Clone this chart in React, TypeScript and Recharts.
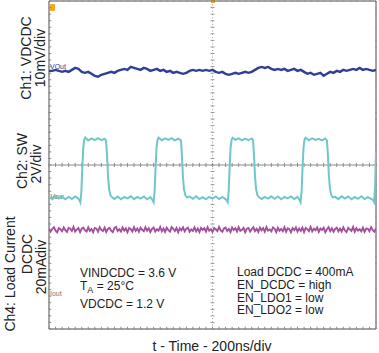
import React from "react";
import {
  ComposedChart,
  Line,
  XAxis,
  YAxis,
  CartesianGrid,
  ReferenceLine,
  ReferenceArea,
  Customized,
} from "recharts";

const FONT = '"Liberation Sans", Arial, Helvetica, sans-serif';

// horizontal: 200 ns/div, 10 divisions; vertical: 10 divisions
const timeTicks = [0, 200, 400, 600, 800, 1000, 1200, 1400, 1600, 1800, 2000];
const divTicks = [-5, -4, -3, -2, -1, 0, 1, 2, 3, 4, 5];

// scope channel settings (scale + screen position of the trace reference)
const ch1MvPerDiv = 10;
const ch1Pos = 2.87;
const ch2VPerDiv = 2;
const ch2Pos = -1.0;
const ch4MaPerDiv = 20;
const ch4Pos = -1.97;

// Ch1: VDCDC ripple in mV around the DC level, one sample every 20 ns
const ch1RippleMv = [
  0, 0, 0.3, 0, -0.3, 0, -0.3, 0.3, 0.9, 0.6,
  -0.3, -0.6, -0.3, -0.9, -1.5, -1.8, -1.2, -0.9, -0.6, -0.3,
  -0.6, 0, 0.3, 0.6, 0.3, 1.2, 0.9, 0.6, 0.3, 0.9,
  0.6, 0, 0.3, 0.6, 0, 0.3, -0.3, 0, -0.6, -0.3,
  -0.6, -0.9, -0.6, 0, 0.3, 0, 0.3, 0, 0.3, 0,
  0.3, -0.3, -0.6, -0.3, -0.9, -1.2, -0.9, -0.6, -0.9, -0.6,
  -0.3, -0.6, -0.3, 0.3, 0.9, 1.2, 0.9, 1.2, 0.6, 0.3,
  0.6, 0.3, 0.6, 0, 0.3, 0.6, 0, 0.3, -0.3, -0.9,
  -0.6, -1.2, -0.9, -0.6, -1.5, -0.9, -0.3, -0.6, 0, -0.3,
  0.3, 0, 0.3, 0.6, 0.3, 0.9, 0.3, 0.6, 0.3, 0,
  0.3,
];

// Ch2: SW node voltage
const ch2TimeNs = [
  0, 20, 40, 60, 80, 100, 120, 140, 160, 180,
  186, 192, 198, 204, 210, 216, 222,
  240, 260, 280, 300, 320, 340,
  349, 355, 361, 368, 376, 386,
  400, 420, 440, 460, 480, 500, 520, 540, 560, 580, 600, 620,
  632, 640, 646, 652, 658, 664, 670,
  690, 710, 730, 750, 770, 790,
  807, 813, 819, 826, 834, 844,
  860, 880, 900, 920, 940, 960, 980, 1000, 1020, 1040, 1060, 1076,
  1086, 1093, 1099, 1105, 1111, 1117, 1123,
  1140, 1160, 1180, 1200, 1220, 1240,
  1248, 1254, 1260, 1267, 1275, 1285,
  1300, 1320, 1340, 1360, 1380, 1400, 1420, 1440, 1460, 1480, 1500, 1520,
  1532, 1539, 1545, 1551, 1557, 1563, 1569,
  1590, 1610, 1630, 1650, 1670, 1690,
  1700, 1706, 1712, 1719, 1727, 1737,
  1750, 1770, 1790, 1810, 1830, 1850, 1870, 1890, 1910, 1930, 1950, 1970,
  1980, 1988, 1994, 2000,
];
const ch2Volts = [
  0.06, -0.08, 0.09, -0.04, 0.08, -0.09, 0.05, -0.07, 0.08, -0.05,
  -0.15, -0.28, 0.4, 1.9, 3.1, 3.55, 3.68,
  3.5, 3.62, 3.52, 3.63, 3.51, 3.6,
  3.5, 2.6, 1.3, 0.5, 0.15, 0.03,
  -0.07, 0.08, -0.09, 0.05, -0.04, 0.09, -0.08, 0.06, -0.05, 0.08, -0.09, 0.04,
  -0.12, -0.27, 0.4, 1.9, 3.1, 3.55, 3.67,
  3.51, 3.62, 3.53, 3.64, 3.5, 3.6,
  3.5, 2.6, 1.3, 0.5, 0.15, 0.03,
  0.08, -0.06, 0.09, -0.08, 0.04, -0.09, 0.06, -0.05, 0.08, -0.08, 0.05, -0.06,
  -0.14, -0.27, 0.4, 1.9, 3.1, 3.55, 3.66,
  3.53, 3.62, 3.5, 3.61, 3.52, 3.62,
  3.5, 2.6, 1.3, 0.5, 0.15, 0.03,
  -0.08, 0.06, -0.05, 0.09, -0.06, 0.08, -0.09, 0.05, -0.04, 0.08, -0.08, 0.06,
  -0.13, -0.27, 0.4, 1.9, 3.1, 3.55, 3.66,
  3.51, 3.63, 3.53, 3.6, 3.5, 3.62,
  3.5, 2.6, 1.3, 0.5, 0.15, 0.03,
  0.06, -0.08, 0.09, -0.05, 0.08, -0.09, 0.05, -0.06, 0.09, -0.08, 0.04, -0.06,
  -0.12, -0.26, 0.6, 2.8,
];

// Ch4: load current noise in mA around its mean, one sample every 10 ns
const ch4NoiseMa = [
  0.8, -1.2, 0.4, 1.5, -0.6, -1.6, 0.9, 0.2, -1.0, 1.3,
  -0.3, -1.4, 1.1, 0.5, -0.8, 1.6, -1.2, 0.1, 0.9, -1.5,
  0.6, 1.2, -0.4, -1.1, 1.4, -0.7, 0.3, -1.6, 1.0, 0.6,
  -1.3, 1.5, -0.2, -0.9, 1.2, -1.4, 0.4, 1.1, -0.6, -1.5,
  0.9, 1.6, -0.9, 0.2, -1.2, 1.3, -0.5, 0.8, -1.6, 1.0,
  0.3, -1.1, 1.5, -0.8, 0.6, -1.3, 1.2, -0.1, -1.0, 1.4,
  -0.6, 0.9, -1.5, 0.5, 1.3, -1.2, 0.2, -0.7, 1.6, -1.0,
  0.7, -1.4, 1.1, -0.3, -1.2, 1.5, 0.4, -0.9, 1.0, -1.6,
  0.8, -0.4, 1.3, -1.1, 0.6, 1.2, -1.3, 0.1, -0.8, 1.4,
  -1.0, 0.7, -1.5, 1.1, -0.2, 0.9, -1.2, 1.5, -0.6, 0.3,
  -1.4, 1.0, 0.2, -0.9, 1.6, -0.5, -1.3, 0.7, 1.2, -0.8,
  0.4, -1.5, 1.3, -0.2, 0.8, -1.1, 1.5, -0.7, -0.1, 1.1,
  -1.6, 0.6, 1.0, -1.2, 0.3, 1.4, -0.9, 0.5, -1.4, 1.2,
  -0.4, 0.9, -1.3, 1.6, -0.6, 0.1, -1.1, 1.3, 0.5, -1.5,
  1.1, -0.7, 0.4, -1.0, 1.5, -1.3, 0.8, 0.2, -1.6, 0.9,
  -0.3, 1.4, -1.2, 0.6, -0.8, 1.2, -1.5, 1.0, 0.3, -0.9,
  1.6, -1.1, 0.5, -0.4, 1.3, -1.4, 0.7, -0.2, 1.1, -1.6,
  0.2, 1.5, -0.9, 0.8, -1.3, 0.4, 1.2, -1.0, 0.6, -1.2,
  1.4, -0.5, -1.5, 1.0, 0.1, -0.8, 1.6, -1.3, 0.9, -0.6,
  0.3, -1.1, 1.2, -1.4, 0.7, 0.5, -1.0, 1.5, -0.3, -1.2,
  0.8,
];

const ch1StepNs = 20;
const ch4StepNs = 10;

const ch1Data = ch1RippleMv.map((v, i) => ({ t: i * ch1StepNs, y: ch1Pos + v / ch1MvPerDiv }));
const ch2Data = ch2TimeNs.map((t, i) => ({ t, y: ch2Pos + ch2Volts[i] / ch2VPerDiv }));
const ch4Data = ch4NoiseMa.map((v, i) => ({ t: i * ch4StepNs, y: ch4Pos + v / ch4MaPerDiv }));

// graticule minor ticks (5 per division)
const minorT = Array.from({ length: 51 }, (_, i) => i * 40);
const minorD = Array.from({ length: 51 }, (_, i) => -5 + i * 0.2);

const leftNotes = ["VINDCDC = 3.6 V", "", "VDCDC = 1.2 V"];
const rightNotes = ["Load DCDC = 400mA", "EN_DCDC = high", "EN_LDO1 = low", "EN_LDO2 = low"];

function Overlay() {
  const txt = { fontFamily: FONT, fill: "#222" } as const;
  return (
    <g>
      {/* trigger / channel markers */}
      <rect x={50} y={4} width={5} height={7} rx={1} fill="#f5a623" />
      <rect x={211} y={0} width={4} height={3} fill="#f5a623" />
      <text x={50} y={69} fontSize={7} fill="#2f3f95" fontFamily={FONT}>VOut</text>
      <text x={50} y={199} fontSize={7} fill="#555" fontStyle="italic" fontFamily={FONT}>Vsw</text>
      <text x={50} y={296} fontSize={7} fill="#777" fontFamily={FONT}>Iout</text>

      {/* side labels */}
      <g {...txt} fontSize={14} textAnchor="middle">
        <text transform="translate(31,58) rotate(-90)">Ch1: VDCDC</text>
        <text transform="translate(45,58) rotate(-90)">10mV/div</text>
        <text transform="translate(27,161) rotate(-90)">Ch2: SW</text>
        <text transform="translate(41,164) rotate(-90)">2V/div</text>
        <text transform="translate(15,274) rotate(-90)">Ch4: Load Current</text>
        <text transform="translate(32,254) rotate(-90)">DCDC</text>
        <text transform="translate(46,267) rotate(-90)">20mAdiv</text>
        <text x={212} y={351}>t - Time - 200ns/div</text>
      </g>

      {/* test conditions */}
      <g {...txt} fontSize={12}>
        <text x={80} y={277}>{leftNotes[0]}</text>
        <text x={80} y={290}>
          T<tspan fontSize={9} dy={3}>A</tspan>
          <tspan dy={-3}> = 25°C</tspan>
        </text>
        <text x={80} y={308}>{leftNotes[2]}</text>
        {rightNotes.map((s, i) => (
          <text key={s} x={237} y={276 + i * 12.8}>{s}</text>
        ))}
      </g>
    </g>
  );
}

export default function App() {
  return (
    <div style={{ position: "absolute", left: 0, top: 0, width: 379, height: 353, background: "#fff" }}>
      <ComposedChart width={379} height={353} margin={{ top: 1, right: 3, bottom: 24, left: 49 }}>
        <XAxis
          type="number"
          dataKey="t"
          domain={[0, 2000]}
          ticks={timeTicks}
          allowDataOverflow
          height={0}
          tick={false}
          tickLine={false}
          axisLine={false}
        />
        <YAxis
          type="number"
          domain={[-5, 5]}
          ticks={divTicks}
          allowDataOverflow
          width={0}
          tick={false}
          tickLine={false}
          axisLine={false}
        />
        <CartesianGrid stroke="#b8b8b8" strokeDasharray="1 5.54" />
        <ReferenceLine x={1000} stroke="#9a9a9a" strokeDasharray="1 2.27" />
        <ReferenceLine y={0} stroke="#8c8c8c" />
        {minorT.map((t) => (
          <ReferenceLine key={"h" + t} segment={[{ x: t, y: -0.06 }, { x: t, y: 0.06 }]} stroke="#8c8c8c" />
        ))}
        {minorD.map((d) => (
          <ReferenceLine key={"v" + d} segment={[{ x: 988, y: d }, { x: 1012, y: d }]} stroke="#9a9a9a" />
        ))}
        {minorT.map((t) => (
          <ReferenceLine key={"b" + t} segment={[{ x: t, y: -5 }, { x: t, y: -4.93 }]} stroke="#8c8c8c" />
        ))}
        {minorD.map((d) => (
          <ReferenceLine key={"l" + d} segment={[{ x: 0, y: d }, { x: 14, y: d }]} stroke="#8c8c8c" />
        ))}
        <ReferenceArea x1={0} x2={2000} y1={-5} y2={5} fill="none" stroke="#4d4d4d" strokeWidth={1} />
        <Line data={ch1Data} dataKey="y" type="linear" stroke="#2f3f95" strokeWidth={2.4} dot={false} isAnimationActive={false} />
        <Line data={ch2Data} dataKey="y" type="linear" stroke="#6fc7ca" strokeWidth={2} dot={false} isAnimationActive={false} />
        <Line data={ch4Data} dataKey="y" type="linear" stroke="#a4509e" strokeWidth={1.9} dot={false} isAnimationActive={false} />
        <Customized component={Overlay} />
      </ComposedChart>
    </div>
  );
}
